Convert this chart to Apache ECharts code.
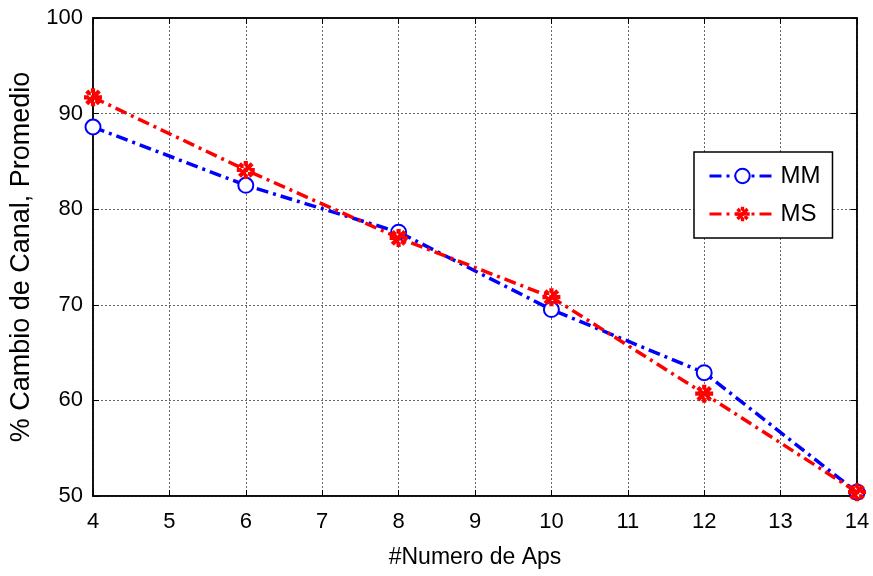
<!DOCTYPE html>
<html><head><meta charset="utf-8">
<script src="https://cdn.jsdelivr.net/npm/echarts@6/dist/echarts.min.js"></script>
<style>html,body{margin:0;padding:0;background:#fff}#c{width:873px;height:576px}</style>
</head><body><div id="c"></div>
<script>
const xValues = [4, 6, 8, 10, 12, 14];
const mmValues = [88.6, 82.5, 77.6, 69.5, 62.9, 50.4];
const msValues = [91.7, 84.1, 77.0, 70.8, 60.7, 50.4];
const seriesNames = ['MM', 'MS'];
const xTitle = '#Numero de Aps';
const yTitle = '% Cambio de Canal, Promedio';

const FONT = '"Liberation Sans", Arial, sans-serif';
const star = 'path://M-1.4,-6 L1.4,-6 L1.4,6 L-1.4,6 Z M-6,-1.4 L6,-1.4 L6,1.4 L-6,1.4 Z M-5.2,-3.2 L3.2,5.2 L5.2,3.2 L-3.2,-5.2 Z M-5.2,3.2 L3.2,-5.2 L5.2,-3.2 L-3.2,5.2 Z';
const chart = echarts.init(document.getElementById('c'), null, {renderer: 'canvas'});
const dash = [12, 5, 3, 5];
const gridGap = {type: [2, 2], color: '#666', width: 1};
chart.setOption({
  animation: false,
  backgroundColor: '#fff',
  grid: {left: 92, right: 16, top: 18, bottom: 80, show: true, borderColor: '#000', borderWidth: 1.5},
  xAxis: [{
    type: 'value', min: 4, max: 14, interval: 1,
    name: xTitle, nameLocation: 'middle', nameGap: 50,
    nameTextStyle: {fontFamily: FONT, fontSize: 23, color: '#000'},
    axisLine: {lineStyle: {color: '#000', width: 1.5}},
    axisTick: {inside: true, length: 6, lineStyle: {color: '#000'}},
    axisLabel: {fontFamily: FONT, fontSize: 22, color: '#000', margin: 15},
    splitLine: {show: true, lineStyle: gridGap}
  }, {
    type: 'value', min: 4, max: 14, interval: 1, position: 'top',
    axisLine: {lineStyle: {color: '#000', width: 1.5}},
    axisTick: {inside: true, length: 6, lineStyle: {color: '#000'}},
    axisLabel: {show: false}, splitLine: {show: false}
  }],
  yAxis: [{
    type: 'value', min: 50, max: 100, interval: 10,
    name: yTitle, nameLocation: 'middle', nameGap: 58,
    nameTextStyle: {fontFamily: FONT, fontSize: 27, color: '#000'},
    axisLine: {show: true, lineStyle: {color: '#000', width: 1.5}},
    axisTick: {show: true, inside: true, length: 6, lineStyle: {color: '#000'}},
    axisLabel: {fontFamily: FONT, fontSize: 22, color: '#000', margin: 10},
    splitLine: {show: true, lineStyle: gridGap}
  }, {
    type: 'value', min: 50, max: 100, interval: 10, position: 'right',
    axisLine: {show: true, lineStyle: {color: '#000', width: 1.5}},
    axisTick: {show: true, inside: true, length: 6, lineStyle: {color: '#000'}},
    axisLabel: {show: false}, splitLine: {show: false}
  }],
  legend: {
    orient: 'vertical', left: 694, top: 152, width: 134, height: 93,
    backgroundColor: '#fff', borderColor: '#000', borderWidth: 1.5,
    padding: [12, 12, 12, 14], itemGap: 14, itemWidth: 66, itemHeight: 18,
    lineStyle: {width: 3},
    textStyle: {fontFamily: FONT, fontSize: 24, color: '#000'},
    data: seriesNames
  },
  series: [{
    name: seriesNames[0], type: 'line',
    data: xValues.map((x, i) => [x, mmValues[i]]),
    symbol: 'emptyCircle', symbolSize: 15,
    lineStyle: {color: '#0000ff', width: 3.5, type: dash},
    itemStyle: {color: '#0000ff', borderColor: '#0000ff', borderWidth: 3.5},
    z: 3
  }, {
    name: seriesNames[1], type: 'line',
    data: xValues.map((x, i) => [x, msValues[i]]),
    symbol: star, symbolSize: 18,
    lineStyle: {color: '#ff0000', width: 3.5, type: dash},
    itemStyle: {color: '#ff0000'},
    z: 4
  }]
});
</script></body></html>
